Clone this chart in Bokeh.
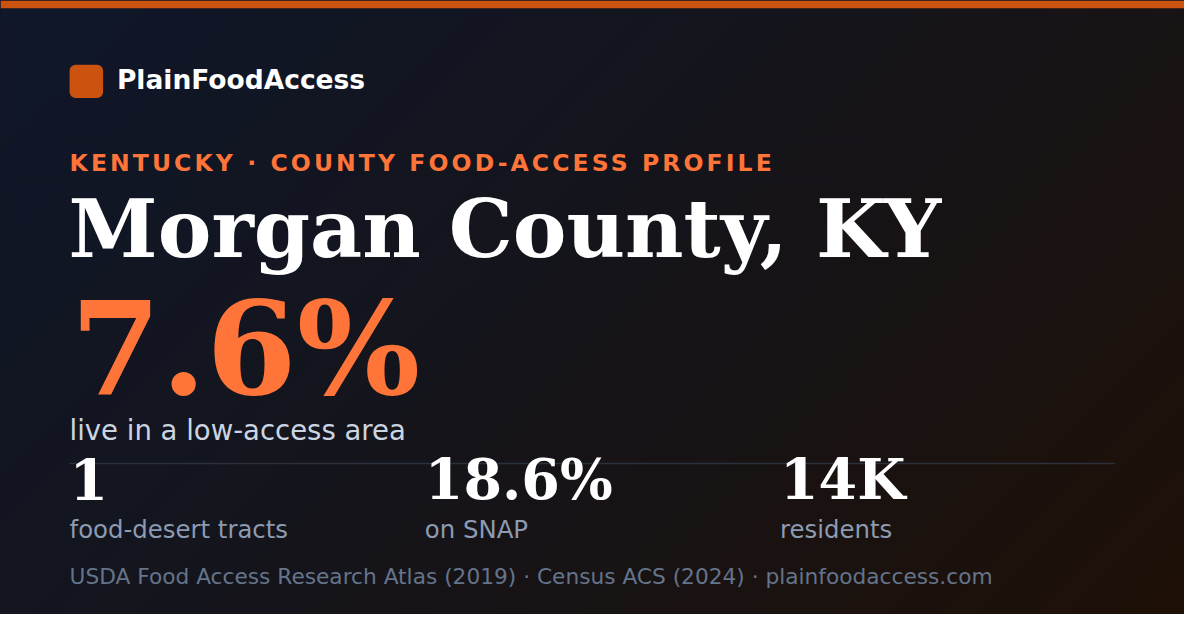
import numpy as np
from bokeh.plotting import figure
from bokeh.layouts import column
from bokeh.models import Range1d, InlineStyleSheet
from bokeh.core.properties import value
from bokeh.embed import file_html
from bokeh.resources import INLINE

# ---- content ----
brand = "PlainFoodAccess"
kicker = "KENTUCKY · COUNTY FOOD-ACCESS PROFILE"
county = "Morgan County, KY"
headline_value = "7.6%"
headline_label = "live in a low-access area"
stat_values = ["1", "18.6%", "14K"]
stat_labels = ["food-desert tracts", "on SNAP", "residents"]
source_line = "USDA Food Access Research Atlas (2019) · Census ACS (2024) · plainfoodaccess.com"

# ---- card geometry: data units = 1200x630 card pixels ----
CW, CH = 1200, 630
W, H = 1184, 614
SY = H / CH

ORANGE_DARK = "#cc5210"
ORANGE = "#ff7438"
sans = value("DejaVu Sans")
serif = value("DejaVu Serif")

# background 135deg gradient
gw, gh = 600, 315
xs = np.linspace(0, CW, gw)
ys = np.linspace(0, CH, gh)
XX, YY = np.meshgrid(xs, ys)
L = (CW + CH) / np.sqrt(2)
t = ((XX - CW / 2) * 0.70710678 + (YY - CH / 2) * 0.70710678) / L + 0.5
t = np.clip(t, 0, 1)
stops = np.array([0.0, 0.5, 1.0])
cols = np.array([[15, 23, 42], [21, 20, 26], [30, 16, 6]], dtype=float)
bg = np.empty((gh, gw), dtype=np.uint32)
view = bg.view(dtype=np.uint8).reshape((gh, gw, 4))
for k in range(3):
    view[:, :, k] = np.round(np.interp(t, stops, cols[:, k])).astype(np.uint8)
view[:, :, 3] = 255

HOST_BG = ":host { background-color: #141722; }"


def band(py0, py1, extra_css=""):
    """A horizontal slice of the card, from screen px py0 to py1."""
    f = figure(width=W, height=py1 - py0, output_backend="svg", toolbar_location=None,
               x_range=Range1d(0, CW), y_range=Range1d(py1 / SY, py0 / SY),
               x_axis_type=None, y_axis_type=None, min_border=0)
    f.grid.visible = False
    f.outline_line_color = None
    f.background_fill_color = "#151419"
    f.border_fill_color = "#151419"
    f.stylesheets = [InlineStyleSheet(css=HOST_BG + extra_css)]
    f.image_rgba(image=[bg], x=0, y=0, dw=CW, dh=CH)
    return f


def base(y, fs):
    # put the alphabetic baseline at card-pixel y
    return y - 0.385 * fs / SY


top = band(0, 141)
mid = band(141, 178, " :host { letter-spacing: 3.1px; }")
low = band(178, H)

# top accent bar and logo
top.quad(left=[0], right=[CW], top=[0], bottom=[8], fill_color=ORANGE_DARK, line_color=None)
top.quad(left=[70], right=[104], top=[66], bottom=[100], fill_color=ORANGE_DARK,
         line_color=None, border_radius=6)
top.text(x=[118], y=[base(92, 26.5)], text=[brand], text_font=sans, text_font_style="bold",
         text_font_size="26.5px", text_color="#ffffff", text_baseline="alphabetic")

mid.text(x=[70], y=[base(176, 23.5)], text=[kicker], text_font=sans, text_font_style="bold",
         text_font_size="23.5px", text_color=ORANGE, text_baseline="alphabetic")

low.text(x=[69], y=[base(266, 80.5)], text=[county], text_font=serif, text_font_style="bold",
         text_font_size="80.5px", text_color="#ffffff", text_baseline="alphabetic")
low.text(x=[71], y=[base(408, 130)], text=[headline_value], text_font=serif,
         text_font_style="bold", text_font_size="130px", text_color=ORANGE,
         text_baseline="alphabetic")
low.text(x=[70], y=[base(452, 27.5)], text=[headline_label], text_font=sans,
         text_font_size="27.5px", text_color="#cbd5e1", text_baseline="alphabetic")

low.segment(x0=[70], y0=[475], x1=[1130], y1=[475], line_color="#2a303c", line_width=1.5)

stat_x = [70 + 360 * i for i in range(len(stat_values))]
low.text(x=stat_x, y=[base(513, 55.5)] * len(stat_x), text=stat_values, text_font=serif,
         text_font_style="bold", text_font_size="55.5px", text_color="#ffffff",
         text_baseline="alphabetic")
low.text(x=stat_x, y=[base(552, 24.4)] * len(stat_x), text=stat_labels, text_font=sans,
         text_font_size="24.4px", text_color="#8c9bb1", text_baseline="alphabetic")
low.text(x=[70], y=[base(600, 21.7)], text=[source_line], text_font=sans,
         text_font_size="21.7px", text_color="#64748b", text_baseline="alphabetic")

page = column(top, mid, low, spacing=0)
open("out.html", "w").write(file_html(page, INLINE))
